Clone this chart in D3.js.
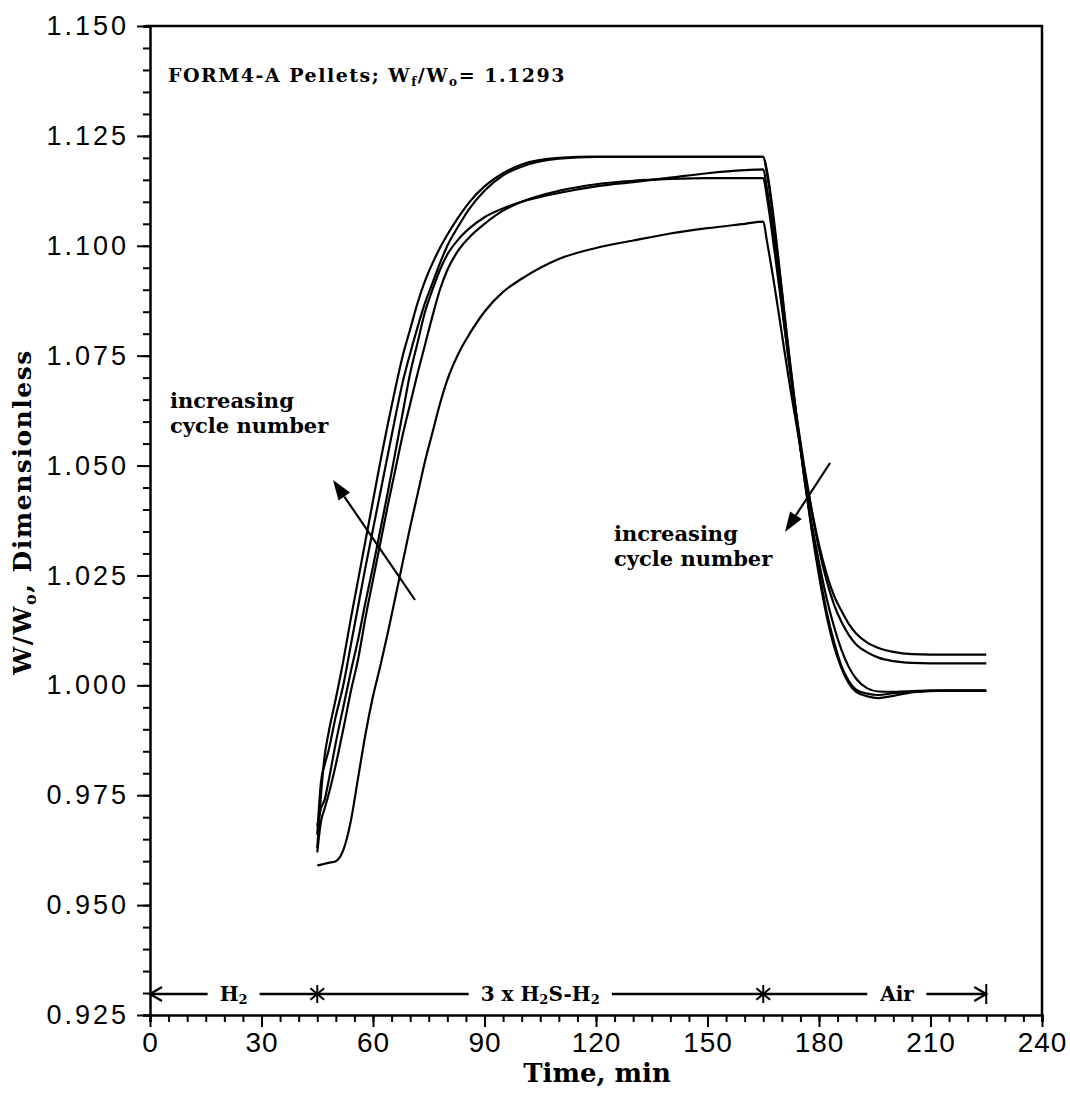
<!DOCTYPE html>
<html>
<head>
<meta charset="utf-8">
<script src="https://cdn.jsdelivr.net/npm/d3@7"></script>
<style>
  body { margin: 0; background: #fff; }
  svg { display: block; }
  .serif { font-family: "DejaVu Serif", "Liberation Serif", serif; font-weight: bold; }
  .tick text { font-family: "Liberation Sans", Arial, sans-serif; }
</style>
</head>
<body>
<svg id="chart" width="1070" height="1104"></svg>
<script>
// sample times (min), shared by every cycle
const times = [45,46,47,48,50,52,54,56,58,60,62,64,66,68,70,72,74,76,78,80,83,86,90,95,100,
  110,120,130,140,150,160,165,166,168,170,172,174,176,178,180,182,184,186,188,190,193,196,
  200,205,210,215,220,225];

// W/Wo per cycle
const cycle1 = [0.9590,0.9592,0.9594,0.9596,0.9600,0.9625,0.9690,0.9790,0.9890,0.9975,
  1.0045,1.0120,1.0200,1.0280,1.0360,1.0435,1.0510,1.0575,1.0640,1.0695,
  1.0755,1.0800,1.0850,1.0895,1.0925,1.0970,1.0995,1.1012,1.1028,1.1040,
  1.1050,1.1055,1.1010,1.0910,1.0800,1.0690,1.0590,1.0490,1.0400,1.0320,
  1.0255,1.0205,1.0170,1.0140,1.0118,1.0097,1.0085,1.0076,1.0071,1.0070,1.0070,1.0070,1.0070];
const cycle2 = [0.9620,0.9690,0.9720,0.9750,0.9820,0.9900,0.9985,1.0060,1.0155,1.0240,
  1.0325,1.0410,1.0490,1.0570,1.0640,1.0710,1.0775,1.0840,1.0900,1.0945,
  1.0990,1.1020,1.1050,1.1080,1.1100,1.1125,1.1140,1.1148,1.1152,1.1154,
  1.1154,1.1154,1.1110,1.0990,1.0860,1.0730,1.0610,1.0500,1.0400,1.0310,
  1.0240,1.0185,1.0145,1.0115,1.0093,1.0075,1.0063,1.0055,1.0051,1.0050,1.0050,1.0050,1.0050];
const cycle3 = [0.9680,0.9720,0.9740,0.9780,0.9870,0.9950,1.0030,1.0105,1.0190,1.0270,
  1.0355,1.0440,1.0530,1.0620,1.0710,1.0780,1.0850,1.0900,1.0945,1.0980,
  1.1015,1.1040,1.1065,1.1085,1.1100,1.1120,1.1135,1.1145,1.1155,1.1165,
  1.1172,1.1174,1.1130,1.1010,1.0870,1.0730,1.0600,1.0480,1.0370,1.0280,
  1.0200,1.0135,1.0082,1.0042,1.0015,0.9993,0.9986,0.9985,0.9987,0.9988,0.9988,0.9988,0.9988];
const cycle4 = [0.9660,0.9780,0.9820,0.9850,0.9930,1.0000,1.0090,1.0180,1.0270,1.0355,
  1.0440,1.0525,1.0610,1.0690,1.0755,1.0815,1.0870,1.0915,1.0960,1.1000,
  1.1045,1.1085,1.1125,1.1160,1.1180,1.1198,1.1202,1.1202,1.1202,1.1202,
  1.1202,1.1202,1.1165,1.1040,1.0895,1.0745,1.0605,1.0475,1.0360,1.0260,
  1.0170,1.0100,1.0045,1.0010,0.9990,0.9981,0.9978,0.9982,0.9985,0.9987,0.9988,0.9988,0.9988];
const cycle5 = [0.9630,0.9750,0.9840,0.9890,0.9970,1.0055,1.0150,1.0240,1.0330,1.0420,
  1.0510,1.0595,1.0675,1.0750,1.0810,1.0870,1.0920,1.0960,1.0995,1.1025,
  1.1065,1.1100,1.1135,1.1165,1.1185,1.1200,1.1203,1.1203,1.1203,1.1203,
  1.1203,1.1203,1.1170,1.1050,1.0900,1.0750,1.0610,1.0475,1.0355,1.0250,
  1.0160,1.0090,1.0040,1.0005,0.9985,0.9975,0.9971,0.9976,0.9984,0.9988,0.9988,0.9988,0.9988];

const xTicks = [0,30,60,90,120,150,180,210,240];
const yTicks = [0.925,0.950,0.975,1.000,1.025,1.050,1.075,1.100,1.125,1.150];

// gas phases along the bottom
const phaseBounds = [0, 45, 165, 225];
const phaseLabelT = [22.5, 105, 201];

const svg = d3.select('#chart');
svg.append('rect').attr('width', 1070).attr('height', 1104).attr('fill', '#fff');

const x = d3.scaleLinear().domain([0, 240]).range([150, 1042]);
const y = d3.scaleLinear().domain([0.925, 1.150]).range([1015, 26]);

// frame: top and right plain lines
svg.append('path')
  .attr('d', 'M' + (x(0) - 4) + ',' + y(1.15) + 'H' + x(240) + 'V' + y(0.925))
  .attr('fill', 'none').attr('stroke', '#000').attr('stroke-width', 2.5);

// x axis, minor then major
svg.append('g').attr('transform', 'translate(0,' + y(0.925) + ')')
  .call(d3.axisBottom(x).tickValues(d3.range(0, 241, 5)).tickSize(7).tickFormat(''))
  .call(g => g.selectAll('line').attr('stroke-width', 2))
  .call(g => g.select('.domain').attr('stroke-width', 2.5));
svg.append('g').attr('transform', 'translate(0,' + y(0.925) + ')')
  .call(d3.axisBottom(x).tickValues(xTicks).tickSize(12).tickPadding(5))
  .call(g => g.select('.domain').remove())
  .call(g => g.selectAll('line').attr('stroke-width', 2))
  .call(g => g.selectAll('text').attr('font-size', 28).attr('letter-spacing', 1).attr('fill', '#000'));

// y axis
svg.append('g').attr('transform', 'translate(' + x(0) + ',0)')
  .call(d3.axisLeft(y).tickValues(d3.range(0, 46).map(i => 0.925 + i * 0.005)).tickSize(7).tickFormat(''))
  .call(g => g.selectAll('line').attr('stroke-width', 2))
  .call(g => g.select('.domain').attr('stroke-width', 2.5));
svg.append('g').attr('transform', 'translate(' + x(0) + ',0)')
  .call(d3.axisLeft(y).tickValues(yTicks).tickSize(13).tickPadding(8).tickFormat(d3.format('.3f')))
  .call(g => g.select('.domain').remove())
  .call(g => g.selectAll('line').attr('stroke-width', 2))
  .call(g => g.selectAll('text').attr('font-size', 27).attr('letter-spacing', 3).attr('fill', '#000'));

// curves
const line = d3.line()
  .x((d, i) => x(times[i]))
  .y(d => y(d))
  .curve(d3.curveMonotoneX);

svg.append('g').selectAll('path')
  .data([cycle1, cycle2, cycle3, cycle4, cycle5])
  .join('path')
  .attr('d', line)
  .attr('fill', 'none')
  .attr('stroke', '#000')
  .attr('stroke-width', 2.2);

// axis titles
svg.append('text').attr('class', 'serif')
  .attr('x', 597).attr('y', 1082).attr('text-anchor', 'middle')
  .attr('font-size', 26).text('Time, min');

const yt = svg.append('text').attr('class', 'serif')
  .attr('transform', 'translate(31,512) rotate(-90)')
  .attr('text-anchor', 'middle').attr('font-size', 25).attr('letter-spacing', 1.5);
yt.append('tspan').text('W/W');
yt.append('tspan').attr('font-size', 16).attr('dy', 5).text('o');
yt.append('tspan').attr('dy', -5).text(', Dimensionless');

// heading note
const note = svg.append('text').attr('class', 'serif')
  .attr('x', 168).attr('y', 82).attr('font-size', 19).attr('letter-spacing', 1.5);
note.append('tspan').text('FORM4-A Pellets; W');
note.append('tspan').attr('font-size', 12).attr('dy', 4).text('f');
note.append('tspan').attr('dy', -4).text('/W');
note.append('tspan').attr('font-size', 12).attr('dy', 4).text('o');
note.append('tspan').attr('dy', -4).text('= 1.1293');

// "increasing cycle number" notes with arrows
function cycleNote(tx, ty, x1, y1, x2, y2) {
  const t = svg.append('text').attr('class', 'serif').attr('font-size', 21);
  t.append('tspan').attr('x', tx).attr('y', ty).text('increasing');
  t.append('tspan').attr('x', tx).attr('y', ty + 25).text('cycle number');
  const ang = Math.atan2(y2 - y1, x2 - x1);
  const len = 20, w = 7;
  const bx = x2 - len * Math.cos(ang), by = y2 - len * Math.sin(ang);
  svg.append('line').attr('x1', x1).attr('y1', y1).attr('x2', bx).attr('y2', by)
    .attr('stroke', '#000').attr('stroke-width', 2.2);
  svg.append('path')
    .attr('d', 'M' + x2 + ',' + y2 +
      'L' + (bx + w * Math.sin(ang)) + ',' + (by - w * Math.cos(ang)) +
      'L' + (bx - w * Math.sin(ang)) + ',' + (by + w * Math.cos(ang)) + 'Z')
    .attr('fill', '#000');
}
cycleNote(170, 408, 415, 600, 333, 480);
cycleNote(614, 541, 830, 463, 785, 532);

// phase bar
const py = 994;
const phase = svg.append('g');
phase.append('line').attr('x1', x(phaseBounds[0])).attr('x2', x(phaseBounds[3]))
  .attr('y1', py).attr('y2', py).attr('stroke', '#000').attr('stroke-width', 2.5);

const labels = [['H', '2', ''], ['3 x H', '2', 'S-H', '2'], ['Air']];
labels.forEach((parts, i) => {
  const t = phase.append('text').attr('class', 'serif')
    .attr('x', x(phaseLabelT[i])).attr('y', py + 7)
    .attr('text-anchor', 'middle').attr('font-size', 20);
  parts.forEach((p, j) => {
    if (p === '') return;
    if (j % 2 === 1) t.append('tspan').attr('font-size', 13).attr('dy', 3).text(p);
    else t.append('tspan').attr('dy', j ? -3 : 0).text(p);
  });
  const bb = t.node().getBBox();
  phase.insert('rect', 'text')
    .attr('x', bb.x - 12).attr('y', py - 6).attr('width', bb.width + 24).attr('height', 12)
    .attr('fill', '#fff');
});

// asterisks at phase changes
[phaseBounds[1], phaseBounds[2]].forEach(t => {
  const cx = x(t), r = 9;
  [90, 40, 140].forEach(a => {
    const rad = a * Math.PI / 180;
    phase.append('line')
      .attr('x1', cx - r * Math.cos(rad)).attr('y1', py - r * Math.sin(rad))
      .attr('x2', cx + r * Math.cos(rad)).attr('y2', py + r * Math.sin(rad))
      .attr('stroke', '#000').attr('stroke-width', 2);
  });
});

// end arrows
function endArrow(px, dir) {
  phase.append('path')
    .attr('d', 'M' + (px - dir * 12) + ',' + (py - 7) + 'L' + px + ',' + py + 'L' + (px - dir * 12) + ',' + (py + 7))
    .attr('fill', 'none').attr('stroke', '#000').attr('stroke-width', 2.2);
}
endArrow(x(phaseBounds[0]), -1);
endArrow(x(phaseBounds[3]), 1);
phase.append('line').attr('x1', x(phaseBounds[3])).attr('x2', x(phaseBounds[3]))
  .attr('y1', py - 10).attr('y2', py + 10).attr('stroke', '#000').attr('stroke-width', 2);
</script>
</body>
</html>
